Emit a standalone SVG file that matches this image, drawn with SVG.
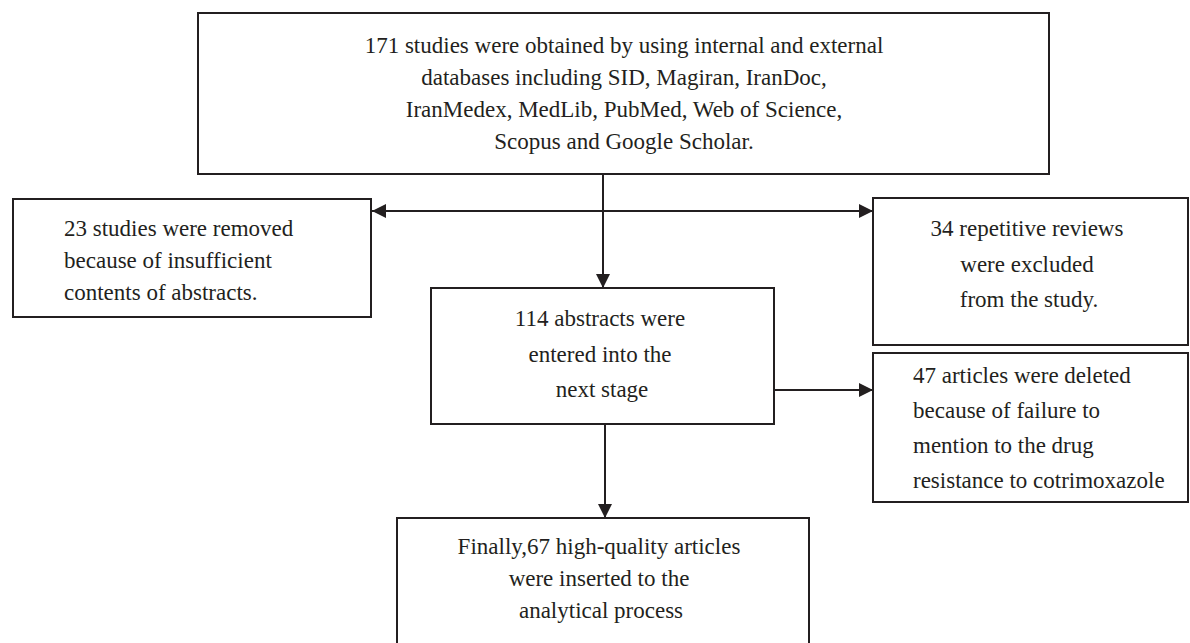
<svg xmlns="http://www.w3.org/2000/svg" width="1190" height="643" viewBox="0 0 1190 643">
<style>
.box{fill:#fff;stroke:#231f20;stroke-width:2}
.t{font-family:"Liberation Serif","Times New Roman",serif;font-size:23px;fill:#231f20}
.c{text-anchor:middle}
.ln{stroke:#231f20;stroke-width:2;fill:none}
</style>
<defs>
<marker id="ah" viewBox="0 0 14 14" refX="14" refY="7" markerWidth="14" markerHeight="14" markerUnits="userSpaceOnUse" orient="auto-start-reverse">
<path d="M0,0 L14,7 L0,14 z" fill="#231f20"/>
</marker>
</defs>
<rect x="0" y="0" width="1190" height="643" fill="#fff"/>
<g id="connectors">
<line class="ln" x1="603" y1="175" x2="603" y2="288" marker-end="url(#ah)"/>
<line class="ln" x1="372" y1="211" x2="873" y2="211" marker-start="url(#ah)" marker-end="url(#ah)"/>
<line class="ln" x1="605" y1="424" x2="605" y2="518" marker-end="url(#ah)"/>
<line class="ln" x1="774" y1="390" x2="873" y2="390" marker-end="url(#ah)"/>
</g>
<g id="n1">
<rect class="box" x="198" y="13" width="851" height="161"/>
<text class="t c" x="624" y="53">171 studies were obtained by using internal and external</text>
<text class="t c" x="624" y="85">databases including SID, Magiran, IranDoc,</text>
<text class="t c" x="624" y="117">IranMedex, MedLib, PubMed, Web of Science,</text>
<text class="t c" x="624" y="149">Scopus and Google Scholar.</text>
</g>
<g id="n2">
<rect class="box" x="13" y="199" width="358" height="118"/>
<text class="t" x="64" y="236">23 studies were removed</text>
<text class="t" x="64" y="268">because of insufficient</text>
<text class="t" x="64" y="300">contents of abstracts.</text>
</g>
<g id="n3">
<rect class="box" x="873" y="198" width="315" height="147"/>
<text class="t c" x="1027" y="236">34 repetitive reviews</text>
<text class="t c" x="1027" y="272">were excluded</text>
<text class="t c" x="1029" y="307">from the study.</text>
</g>
<g id="n4">
<rect class="box" x="431" y="288" width="343" height="136"/>
<text class="t c" x="600" y="326">114 abstracts were</text>
<text class="t c" x="600" y="362">entered into the</text>
<text class="t c" x="602" y="397">next stage</text>
</g>
<g id="n5">
<rect class="box" x="873" y="353" width="315" height="149"/>
<text class="t" x="913" y="383">47 articles were deleted</text>
<text class="t" x="913" y="418">because of failure to</text>
<text class="t" x="913" y="453">mention to the drug</text>
<text class="t" x="913" y="488">resistance to cotrimoxazole</text>
</g>
<g id="n6">
<rect class="box" x="397" y="518" width="412" height="140"/>
<text class="t c" x="599" y="554">Finally,67 high-quality articles</text>
<text class="t c" x="599" y="586">were inserted to the</text>
<text class="t c" x="601" y="618">analytical process</text>
</g>
</svg>
